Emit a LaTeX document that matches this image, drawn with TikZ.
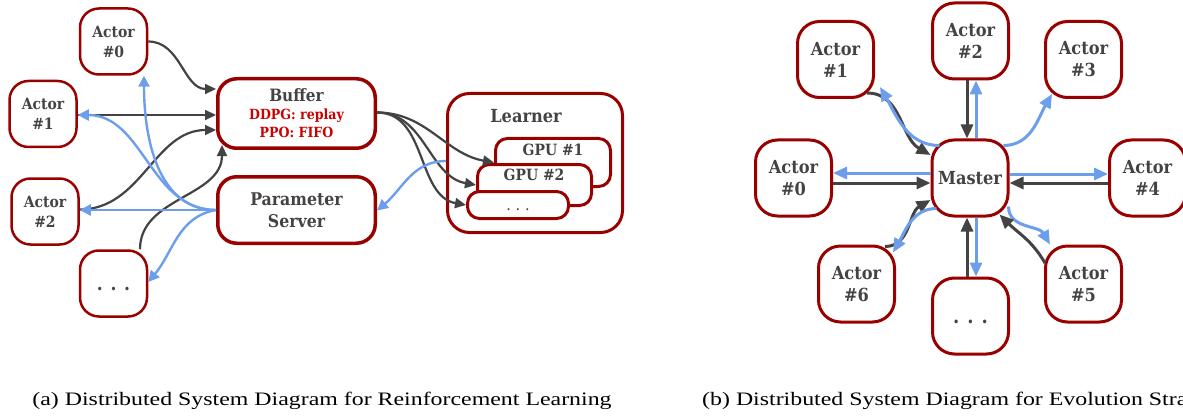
\documentclass[tikz,border=0pt]{standalone}
\usepackage{fontspec}
\setmainfont{Liberation Serif}
\newfontfamily\slab{DejaVu Serif Condensed}
\usetikzlibrary{arrows.meta}
\definecolor{boxred}{HTML}{990000}
\definecolor{txtgray}{HTML}{434343}
\definecolor{txtred}{HTML}{CC0000}
\definecolor{arrblue}{HTML}{6D9EEB}
\definecolor{arrdark}{HTML}{434343}
\newcommand{\ddd}{\vphantom{A}.\hspace{0.4em}.\hspace{0.4em}.}
\begin{document}
\begin{tikzpicture}[x=1pt,y=-1pt,
  abox/.style={draw=boxred, line width=2.5pt, rounded corners=19pt, fill=white, inner sep=0pt,
    align=center, text=txtgray, minimum width=67pt, minimum height=66pt,
    font=\slab\bfseries\fontsize{15.5}{20}\selectfont},
  bigbox/.style={draw=boxred, line width=3.5pt, rounded corners=19pt, fill=white, inner sep=0pt,
    align=center, text=txtgray, minimum width=157.5pt},
  lbox/.style={draw=boxred, line width=3pt, rounded corners=22pt, fill=white, inner sep=0pt},
  gbox/.style={draw=boxred, line width=3pt, rounded corners=12pt, fill=white, inner sep=0pt},
  glabel/.style={text=txtgray, inner sep=0pt, font=\slab\bfseries\fontsize{15.5}{18}\selectfont},
  rbox/.style={draw=boxred, line width=3pt, rounded corners=22pt, fill=white, inner sep=0pt,
    align=center, text=txtgray, minimum width=76pt, minimum height=76pt,
    font=\slab\bfseries\fontsize{18}{22}\selectfont},
  dk/.style={draw=arrdark, line width=2.2pt, -{Triangle[length=11pt,width=10pt]}},
  bl/.style={draw=arrblue, line width=2.4pt, -{Triangle[length=11pt,width=11pt]}},
  dkr/.style={draw=arrdark, line width=3pt, -{Triangle[length=14pt,width=12pt]}},
  blr/.style={draw=arrblue, line width=3pt, -{Triangle[length=14pt,width=12pt]}},
  captext/.style={inner sep=0pt, font=\fontsize{19}{21}\selectfont}
]
\useasboundingbox (0,0) rectangle (1183,417);

% ---------- (a) ----------
\node[abox] (a0) at (113.5,41.5) {Actor\\\#0};
\node[abox] (a1) at (43,114) {Actor\\\#1};
\node[abox] (a2) at (45,211.5) {Actor\\\#2};
\node[abox, font=\slab\bfseries\fontsize{19}{20}\selectfont] (ad) at (113.5,283.5) {\ddd};
\node[bigbox, minimum height=69.5pt, font=\slab\bfseries\fontsize{17}{18}\selectfont] (buf) at (296.5,113.5)
  {Buffer\\{\color{txtred}\fontsize{14}{18}\selectfont DDPG: replay}\\{\color{txtred}\fontsize{14}{18}\selectfont PPO: FIFO}};
\node[bigbox, minimum height=66.5pt, font=\slab\bfseries\fontsize{17.5}{22}\selectfont] (ps) at (296.5,210) {Parameter\\Server};

\node[lbox, minimum width=175pt, minimum height=139pt] (lrn) at (535,163) {};
\node[glabel, font=\slab\bfseries\fontsize{18}{20}\selectfont] (lrnl) at (526,116) {Learner};
\node[gbox, minimum width=115pt, minimum height=48pt] (g1) at (553,162.5) {};
\node[glabel] (g1l) at (553,150) {GPU \#1};
\node[gbox, minimum width=114pt, minimum height=41pt] (g2) at (534.5,185) {};
\node[glabel] (g2l) at (534,175) {GPU \#2};
\node[gbox, minimum width=101pt, minimum height=27pt] (g3) at (518,205) {};
\node[glabel, font=\slab\fontsize{16}{16}\selectfont, text height=9pt] (g3l) at (518,206) {.\hspace{0.3em}.\hspace{0.3em}.};

% dark arrows (a)
\draw[dk] (a0.east) to[out=0,in=180] ([yshift=24.5pt]buf.west);
\draw[dk] ([yshift=-1pt]a1.east) -- ([yshift=-1.5pt]buf.west);
\draw[dk] ([yshift=2pt]a2.east) to[out=0,in=180] ([yshift=-16.5pt]buf.west);
\draw[dk] ([xshift=26.5pt]ad.north) to[out=90,in=-90] ([xshift=6pt,yshift=5pt]buf.south west);
\draw[dk] ([yshift=1pt]buf.east) to[out=0,in=170] (g1.west);
\draw[dk] ([yshift=1pt]buf.east) to[out=0,in=170] (g2.west);
\draw[dk] ([yshift=1pt]buf.east) to[out=0,in=170] (g3.west);
% blue arrows (a)
\draw[bl] (ps.west) to[out=180,in=0] ([yshift=-1pt]a1.east);
\draw[bl] (ps.west) to[out=180,in=-90] ([xshift=30.5pt]a0.south);
\draw[bl] (ps.west) -- (ps.west -| a2.east);
\draw[bl] (ps.west) to[out=190,in=50] ([yshift=1.5pt]ad.east);
\draw[bl] ([yshift=2pt]lrn.west) to[out=180,in=40] ([yshift=-0.5pt]ps.east);

% ---------- (b) ----------
\node[rbox] (r1) at (835.5,59.5) {Actor\\\#1};
\node[rbox] (r2) at (970.5,41) {Actor\\\#2};
\node[rbox] (r3) at (1083.5,59.5) {Actor\\\#3};
\node[rbox] (r0) at (793.5,178) {Actor\\\#0};
\node[rbox] (m) at (970,178) {Master};
\node[rbox] (r4) at (1147.5,178) {Actor\\\#4};
\node[rbox] (r6) at (856.5,284) {Actor\\\#6};
\node[rbox, font=\slab\bfseries\fontsize{20}{22}\selectfont] (rd) at (970.5,316) {\ddd};
\node[rbox] (r5) at (1083.5,284) {Actor\\\#5};

\draw[dkr] ([xshift=-3.5pt]r2.south) -- ([xshift=-3pt]m.north);
\draw[blr] ([xshift=6pt]m.north) -- ([xshift=5.5pt]r2.south);
\draw[blr] ([yshift=5pt]m.west) -- ([yshift=5pt]r0.east);
\draw[dkr] ([yshift=-5pt]r0.east) -- ([yshift=-5pt]m.west);
\draw[blr] ([yshift=4pt]m.east) -- ([yshift=4pt]r4.west);
\draw[dkr] ([yshift=-5pt]r4.west) -- ([yshift=-5pt]m.east);
\draw[dkr] ([xshift=-3.5pt]rd.north) -- ([xshift=-3pt]m.south);
\draw[blr] ([xshift=6pt]m.south) -- ([xshift=5.5pt]rd.north);

\draw[dkr] ([xshift=-8pt,yshift=6pt]r1.south east) to[out=0,in=150] ([yshift=23pt]m.west);
\draw[blr] ([xshift=9pt,yshift=-7pt]m.north west) to[out=180,in=-60] ([xshift=5pt,yshift=12pt]r1.south east);
\draw[blr] ([xshift=-6pt,yshift=-7pt]m.north east) to[out=0,in=-120] ([xshift=8pt,yshift=5pt]r3.south west);
\draw[dkr] ([xshift=-11pt,yshift=-2pt]r6.north east) to[out=0,in=-150] ([yshift=-22pt]m.west);
\draw[blr] ([xshift=6pt,yshift=9pt]m.south west) to[out=180,in=60] ([xshift=-3pt,yshift=-8pt]r6.north east);
\draw[blr] ([xshift=-1pt,yshift=11pt]m.south east) to[out=-90,in=120] ([xshift=6pt]r5.north west);
\draw[dkr] ([xshift=1pt,yshift=21pt]r5.west) to[out=120,in=-45] ([xshift=-10pt,yshift=3pt]m.south east);

% captions
\node[captext, anchor=base] (capa) at (322,405) {\scalebox{1.256}[1]{(a) Distributed System Diagram for Reinforcement Learning}};
\node[captext, anchor=base west] (capb) at (702,405) {\scalebox{1.256}[1]{(b) Distributed System Diagram for Evolution Stra}};
\end{tikzpicture}
\end{document}
